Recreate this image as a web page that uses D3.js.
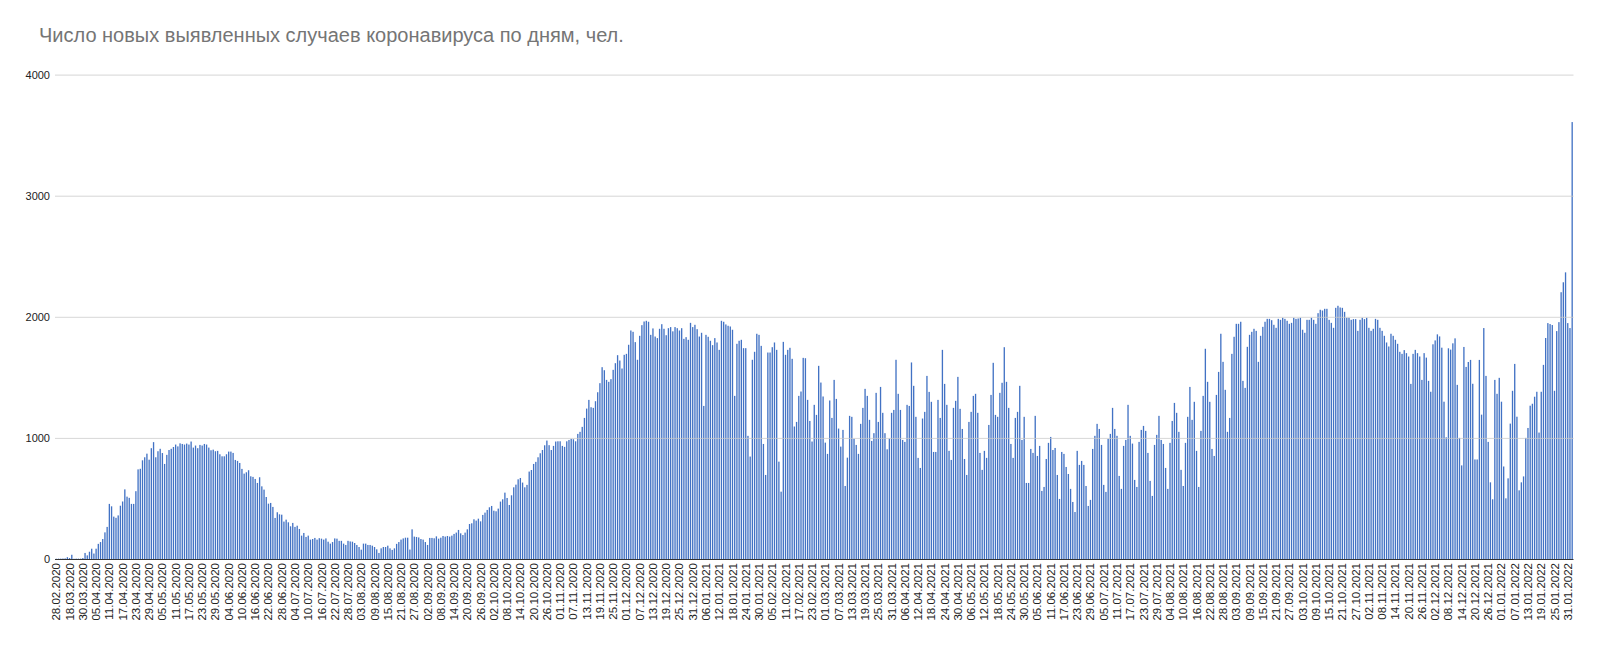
<!DOCTYPE html>
<html><head><meta charset="utf-8">
<script src="https://cdn.jsdelivr.net/npm/d3@7/dist/d3.min.js"></script>
<style>
body{margin:0;background:#fff}
svg{display:block}
text{font-family:"Liberation Sans",Arial,sans-serif}
</style>
</head><body>
<svg id="c" width="1603" height="655"></svg>
<script>
const title = "Число новых выявленных случаев коронавируса по дням, чел.";
// first rows of the table are irregular, then one row per day from 30.03.2020
const earlyDates = ["28.02.2020","04.03.2020","06.03.2020","10.03.2020","12.03.2020","16.03.2020",
  "18.03.2020","20.03.2020","22.03.2020","24.03.2020","26.03.2020","28.03.2020"];
const firstDailyDate = "30.03.2020";
const lastDate = "02.02.2022";

const casesSpring2020 = [2,3,3,4,5,15,8,35,2,3,3,3,8,
  50,30,60,85,45,85,125,140,165,220,265,455,435,350,340,360,440,475,575,515,505,455,455,560,740,745,815,840,870,820,915,965,840,890,910,875,785,860,900,910,925,945,930,955,950,
  945,953,945,970,920,937,915,942,937,950,945,920,898,903,890,893,865,848,848,865,887,887,876,818,810,793,744,705,716,733,683,678,661,628,675,600,573,512,457,463,430,339,386,369,366,309,325,303,270,298,265,275,248,193];
const casesSummer2020 = [215,182,193,160,165,174,160,172,168,160,170,143,127,140,170,168,150,150,127,116,150,145,143,132,116,99,77,127,127,116,116,110,99,80,50,88,99,99,110,88,75,88,125,140,160,170,176,176,78,245,185,182,178,165,160,140,
  116,174,174,171,187,168,176,190,185,190,185,193,207,218,240,212,198,218,245,289,295,328,317,333,311,364,383,405,427,438,399,394,416,474,493,548,504,446,526,592,614,658,669,631,592,612,722,735,785,802,840,873,900,939,978,940];
const casesWinter2020 = [900,934,970,972,972,934,926,972,983,992,989,972,1033,1050,1091,1165,1242,1314,1253,1248,1303,1377,1452,1584,1559,1479,1463,1485,1562,1617,1683,1639,1573,1686,1694,1769,1887,1876,1791,1645,1843,1931,1961,1967,1959,1851,1904,1837,1824,1901,1939,1901,1848,1906,1915,
  1880,
  1915,1906,1887,1906,1818,1832,1810,1950,1915,1934,1898,1837,1868,1264,1851,1835,1802,1766,1824,1788,1727,1967,1959,1937,1926,1920,1893,1347,1777,1802,1810,1741,1741,1017,846,1645,1711,1860,1851,1760,950,694,1705,1705,1749,1788,1727,804,556,1793,1686,1727,1744,1653,1094,1132,1347,1383,1661];
const casesSpring2021 = [1658,1314,1140,970,1273,1190,1595,1457,1342,961,868,1309,1165,1479,1322,1077,928,1066,603,837,1182,1174,992,942,868,1116,1248,1405,1347,1149,975,1039,1372,1132,1421,1207,1039,906,994,1207,1231,1645,1364,1231,983,967,1273,1264,1623,1430,1174,835,752,1160,1215,1512,
  1380,1298,884,884,1314,1165,1727,1446,1273,893,818,1248,1306,1504,1240,1074,826,694,1132,1215,1347,1364,1207,876,736,893,835,1107,1355,1620,1190,1174,1372,1455,1749,1463,1248,950,835,1165,1215,1430,983,1174,628,628,909,876,1182,851,934,562,595,826,959,1008,900];
const casesSummer2021 = [917,694,496,884,868,760,702,579,471,388,893,777,810,777,603,438,488,909,1017,1116,1074,942,612,554,992,1033,1248,1074,1017,686,579,934,983,1273,1017,953,653,595,967,1066,1099,1058,876,645,521,942,1025,1182,983,950,752,579,959,1140,1289,1207,
  1050,736,603,959,1174,1421,1149,1298,893,595,1058,1347,1736,1463,1298,909,851,1355,1545,1860,1628,1397,1050,1165,1694,1835,1942,1942,1959,1471,1413,1752,1851,1876,1901,1884,1628,1843,1917,1959,1983,1983,1972,1934,1909,1983,1975,1992,1983,1967,1942,1950,1992,1983,1986];
const casesAutumn2021 = [1992,1893,1868,1975,1975,1992,1975,1942,2030,2058,2052,2066,2066,1975,1950,1909,2074,2091,2077,2074,2041,1992,1992,1975,1981,1981,1884,1975,1992,1981,1992,1909,1884,1901,1983,1975,1909,1884,1843,1788,1755,1860,1843,1810,1777,1711,1694,1725,1700,1672,1446,1694,1727,1700,1672,1479,
  1700,
  1663,1471,1381,1773,1805,1855,1838,1745,1299,1005,1740,1729,1781,1822,1438,1000,773,1751,1586,1627,1644,1447,822,822,1644,1192,1907,1512,967,633,493,1479,1364,1496,1299,764,501,666,1118,1389,1611,1175,567,633,682,1000,1082,1266,1282,1340,1381,1044,1381,1603,1825,1948,1940,1932,1389,1882,1956,2203,2285,2367,1948,1907,3608];
const yTickValues = [0,1000,2000,3000,4000];
const tickEvery = 6;

// ---- build table ----
const values = [].concat(casesSpring2020, casesSummer2020, casesWinter2020, casesSpring2021, casesSummer2021, casesAutumn2021);
function parseD(s){const [d,m,y]=s.split(".").map(Number);return Date.UTC(y,m-1,d);}
function fmtD(t){const d=new Date(t);const p=n=>String(n).padStart(2,"0");return p(d.getUTCDate())+"."+p(d.getUTCMonth()+1)+"."+d.getUTCFullYear();}
const categories = earlyDates.slice();
for(let t=parseD(firstDailyDate); t<=parseD(lastDate); t+=86400000) categories.push(fmtD(t));
const data = categories.map((c,i)=>({date:c, value: values[i] || 0}));
const tickLabels = categories.filter((c,i)=>i%tickEvery===0);

const svg = d3.select("#c");
const plotLeft = 55, plotRight = 1573.5, plotTop = 74.6, plotBottom = 559;

svg.append("text").attr("x",39).attr("y",42).attr("fill","#757575")
  .attr("font-size","20px").text(title);

const x = d3.scaleBand().domain(categories).range([plotLeft,plotRight]).paddingInner(0.4).paddingOuter(0.3);
const y = d3.scaleLinear().domain([0,4000]).range([plotBottom,plotTop]);

// bars
svg.append("g").selectAll("rect").data(data).join("rect")
  .attr("x",d=>x(d.date)).attr("width",x.bandwidth())
  .attr("y",d=>y(d.value)).attr("height",d=>y(0)-y(d.value))
  .attr("fill","#4272c4");

// gridlines (drawn over bars, semi-transparent)
const yAxis = d3.axisLeft(y).tickValues(yTickValues).tickSize(-(plotRight-plotLeft)).tickFormat(d3.format("d")).tickPadding(5);
const gy = svg.append("g").attr("transform",`translate(${plotLeft},0)`).call(yAxis);
gy.select(".domain").remove();
gy.selectAll(".tick line").attr("stroke","#c8c8c8").attr("stroke-width",1).attr("opacity",0.75);
gy.selectAll(".tick").filter(d=>d===0).select("line").attr("stroke","#333").attr("opacity",1);
gy.selectAll(".tick text").attr("font-size","11px").attr("fill","#222").attr("font-family","Liberation Sans, Arial, sans-serif");

// x axis labels (rotated)
const xAxis = d3.axisBottom(x).tickValues(tickLabels).tickSize(0).tickPadding(4);
const gx = svg.append("g").attr("transform",`translate(0,${plotBottom})`).call(xAxis);
gx.select(".domain").remove();
gx.selectAll(".tick text")
  .attr("font-size","11.5px").attr("fill","#222").attr("font-family","Liberation Sans, Arial, sans-serif")
  .attr("text-anchor","end").attr("dy","0.35em")
  .attr("transform","translate(0,4) rotate(-90)").attr("x",0).attr("y",0);
</script>
</body></html>
